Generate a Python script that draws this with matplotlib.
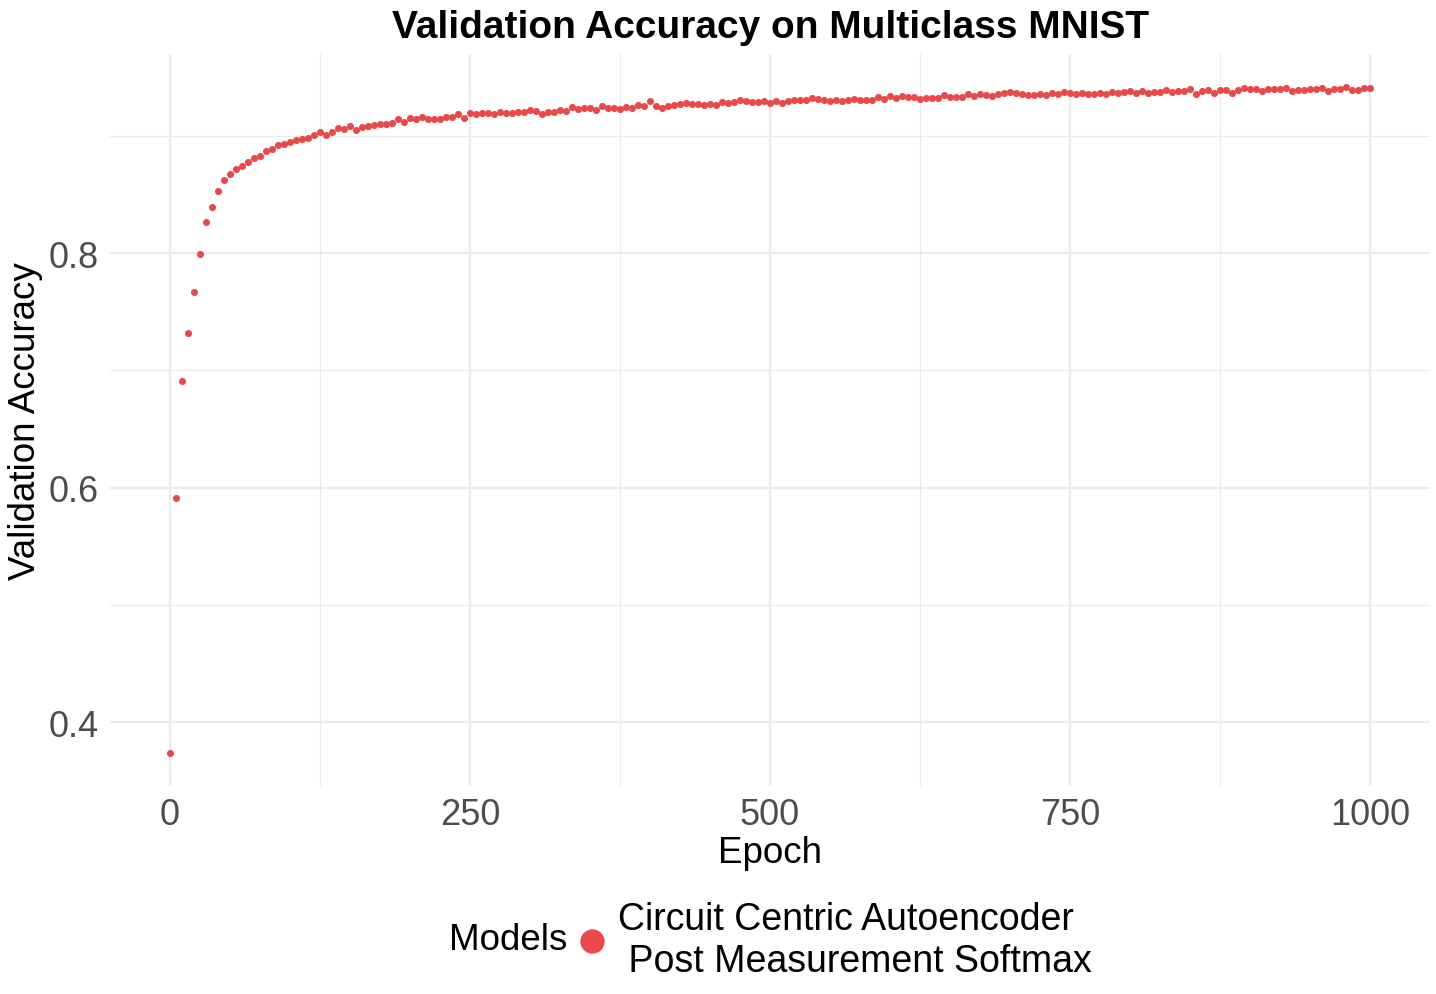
import matplotlib
matplotlib.use("Agg")
import matplotlib.pyplot as plt
from matplotlib.lines import Line2D
from matplotlib.offsetbox import HPacker
import numpy as np

plt.rcParams["font.family"] = ["Liberation Sans", "DejaVu Sans"]

# validation accuracy, one point every 5 epochs
epochs = list(range(0, 1001, 5))
accuracy = [
    0.374, 0.591, 0.691, 0.732, 0.767, 0.799, 0.827, 0.839, 0.853, 0.8626,
    0.8675, 0.8717, 0.874, 0.8774, 0.8812, 0.8831, 0.8873, 0.8892, 0.8923, 0.8934,
    0.895, 0.8968, 0.8976, 0.898, 0.9006, 0.903, 0.901, 0.9037, 0.9067, 0.906,
    0.9086, 0.9049, 0.9079, 0.9083, 0.9094, 0.9098, 0.9106, 0.9113, 0.9148, 0.9117,
    0.915, 0.9148, 0.9159, 0.9148, 0.9143, 0.9148, 0.9159, 0.9159, 0.9188, 0.9151,
    0.9199, 0.9185, 0.9199, 0.9199, 0.9185, 0.9208, 0.9193, 0.9193, 0.9202, 0.9208,
    0.9219, 0.9213, 0.9188, 0.9208, 0.9208, 0.9219, 0.9216, 0.9245, 0.9233, 0.9236,
    0.9236, 0.9225, 0.9259, 0.9242, 0.9242, 0.9233, 0.9247, 0.9236, 0.9267, 0.9256,
    0.9296, 0.9256, 0.9242, 0.9253, 0.9265, 0.9273, 0.9282, 0.9273, 0.9276, 0.9265,
    0.9276, 0.9267, 0.9293, 0.9285, 0.9290, 0.9304, 0.9296, 0.9293, 0.9287, 0.9299,
    0.9285, 0.9296, 0.9285, 0.9296, 0.9307, 0.9304, 0.9304, 0.9324, 0.9313, 0.9304,
    0.9302, 0.9310, 0.9299, 0.9304, 0.9313, 0.9310, 0.9310, 0.9307, 0.9336, 0.9316,
    0.9338, 0.9327, 0.9341, 0.9333, 0.9333, 0.9313, 0.9324, 0.9321, 0.9324, 0.9347,
    0.9333, 0.9330, 0.9333, 0.9361, 0.9338, 0.9361, 0.9350, 0.9338, 0.9361, 0.9364,
    0.9378, 0.9370, 0.9358, 0.9353, 0.9353, 0.9361, 0.9350, 0.9370, 0.9356, 0.9373,
    0.9364, 0.9358, 0.9370, 0.9361, 0.9361, 0.9367, 0.9358, 0.9373, 0.9370, 0.9375,
    0.9381, 0.9370, 0.9381, 0.9364, 0.9378, 0.9375, 0.9390, 0.9375, 0.9384, 0.9381,
    0.9401, 0.9358, 0.9381, 0.9392, 0.9364, 0.9390, 0.9390, 0.9364, 0.9392, 0.9407,
    0.9401, 0.9401, 0.9384, 0.9401, 0.9398, 0.9398, 0.9410, 0.9381, 0.9392, 0.9392,
    0.9398, 0.9401, 0.9407, 0.9387, 0.9404, 0.9404, 0.9415, 0.9390, 0.9392, 0.9410,
    0.9412,
]
model_label = "Circuit Centric Autoencoder\n Post Measurement Softmax"
x_ticks = [0, 250, 500, 750, 1000]
y_ticks = [0.4, 0.6, 0.8]

point_color = "#E8494B"
grid_color = "#EBEBEB"

fig = plt.figure(figsize=(14.36, 9.95), dpi=100)
ax = fig.add_axes([110 / 1436, 1 - 787 / 995, 1320 / 1436, 732 / 995])

ax.scatter(epochs, accuracy, s=26, color=point_color, linewidths=0, zorder=3)

# ggplot-style 5% expansion
xr = max(epochs) - min(epochs)
yr = max(accuracy) - min(accuracy)
ax.set_xlim(min(epochs) - 0.05 * xr, max(epochs) + 0.05 * xr)
ax.set_ylim(min(accuracy) - 0.05 * yr, max(accuracy) + 0.05 * yr)

ax.set_xticks(x_ticks)
ax.set_xticklabels([str(t) for t in x_ticks])
ax.set_yticks(y_ticks)
ax.set_yticklabels([f"{t:.1f}" for t in y_ticks])
ax.set_xticks([125, 375, 625, 875], minor=True)
ax.set_yticks([0.5, 0.7, 0.9], minor=True)

ax.grid(which="major", color=grid_color, linewidth=1.6, zorder=0)
ax.grid(which="minor", color=grid_color, linewidth=0.8, zorder=0)
ax.set_axisbelow(True)
for s in ax.spines.values():
    s.set_visible(False)
ax.tick_params(which="both", length=0)
ax.tick_params(axis="both", labelsize=26, labelcolor="#4D4D4D", pad=8)

ax.set_xlabel("Epoch", fontsize=26.5, labelpad=2)
ax.set_ylabel("Validation Accuracy", fontsize=26.5, labelpad=4)
ax.set_title("Validation Accuracy on Multiclass MNIST", fontsize=28,
             fontweight="bold", pad=12)

handle = Line2D([], [], marker="o", linestyle="none", markersize=17.5,
                markerfacecolor=point_color, markeredgewidth=0)
leg = fig.legend([handle], [model_label], loc="center",
                 bbox_to_anchor=(770.5 / 1436, 1 - 941 / 995),
                 frameon=False, fontsize=27, title="Models", title_fontsize=26.5,
                 handletextpad=0.19, borderpad=0, handlelength=1.0)
# legend title sits left of the key, like ggplot's bottom legend
title_box = leg._legend_title_box
body = leg._legend_handle_box
leg._legend_box._children = [HPacker(pad=0, sep=4, children=[title_box, body], align="center")]

fig.savefig("out.png", dpi=100, facecolor="white")
